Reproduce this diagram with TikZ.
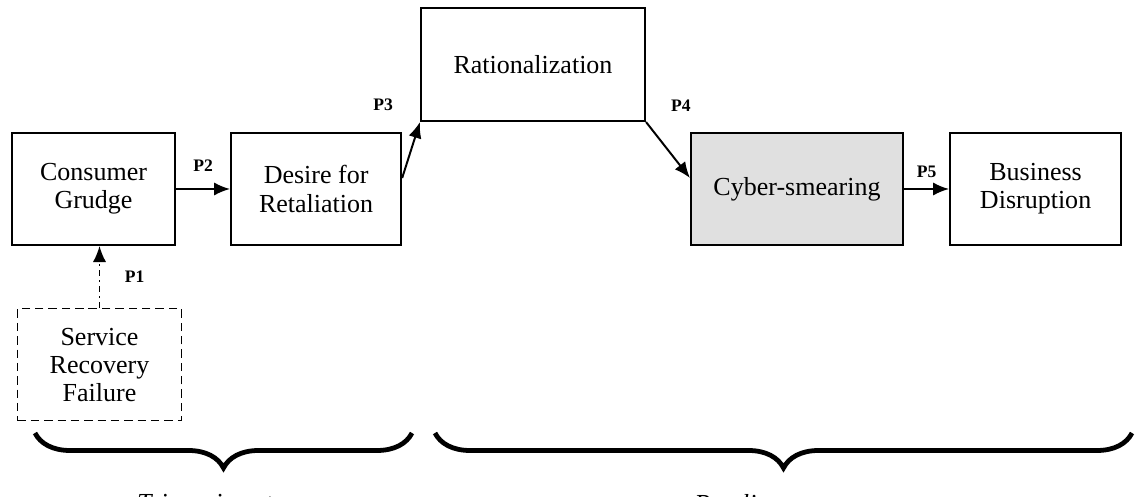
\documentclass[tikz,border=0pt]{standalone}
\usepackage{fontspec}
\setmainfont{Liberation Serif}
\usetikzlibrary{arrows.meta,positioning,decorations.pathreplacing}
\definecolor{smearcol}{RGB}{224,224,224}
\tikzset{
  stagebox/.style = {rectangle, draw=black, line width=1.5pt, align=center,
                     minimum width=#1, minimum height=2.8cm, inner sep=2pt,
                     font=\fontsize{18.5}{20}\selectfont},
  flow/.style     = {-{Latex[length=4mm,width=3.3mm]}, line width=1.4pt},
  plab/.style     = {font=\fontsize{12.5}{14}\selectfont\bfseries},
  phase/.style    = {decorate, decoration={brace, amplitude=0.875cm}, line width=3.4pt},
  phaselab/.style = {font=\fontsize{18.5}{20}\selectfont\itshape},
}

\begin{document}
\begin{tikzpicture}
  \useasboundingbox (0,0) rectangle (28.375,-12.425);

  \node[stagebox=4.075cm] (grudge) at (2.3375,-4.725) {Consumer\\ Grudge};
  \node[stagebox=4.25cm, right=1.35cm of grudge] (desire) {Desire for\\ Retaliation};
  \node[stagebox=5.6cm, minimum height=2.825cm] (ration) at (13.325,-1.6125) {Rationalization};
  \node[stagebox=5.3cm, fill=smearcol] (smear) at (19.925,-4.725) {Cyber-smearing};
  \node[stagebox=4.275cm, right=1.125cm of smear] (disrupt) {Business\\ Disruption};
  \node[stagebox=4.1cm, line width=1pt, dash pattern=on 6pt off 3.5pt,
        below=1.55cm of grudge, xshift=0.15cm] (failure)
       {Service\\ Recovery\\ Failure};

  % proposition paths
  \draw[flow, line width=1.1pt, dash pattern=on 4pt off 3pt on 1.5pt off 3pt] (failure.north)
       -- node[plab, right=0.5cm] (p1) {P1} (failure.north |- grudge.south);
  \draw[flow] (grudge) -- node[plab, above=0.3cm] (p2) {P2} (desire);
  \draw[flow] ([yshift=0.275cm]desire.east) -- (ration.south west);
  \draw[flow] (ration.south east) -- ([yshift=0.275cm]smear.west);
  \draw[flow] (smear) -- node[plab, above=0.15cm] (p5) {P5} (disrupt);
  \node[plab, above left=0.15cm and 0.55cm of ration.south west] (p3) {P3};
  \node[plab, above right=0.15cm and 0.5cm of ration.south east] (p4) {P4};

  % phases
  \coordinate (trig-l) at (0.875,-10.825);
  \coordinate (trig-r) at (10.3,-10.825);
  \coordinate (ret-l) at (10.875,-10.825);
  \coordinate (ret-r) at (28.3,-10.825);
  \draw[phase] (trig-r) -- node[phaselab, below=1.35cm] (trig) {Triggering stage} (trig-l);
  \draw[phase] (ret-r) -- node[phaselab, below=1.35cm] (ret) {Retaliatory stage} (ret-l);
\end{tikzpicture}
\end{document}
